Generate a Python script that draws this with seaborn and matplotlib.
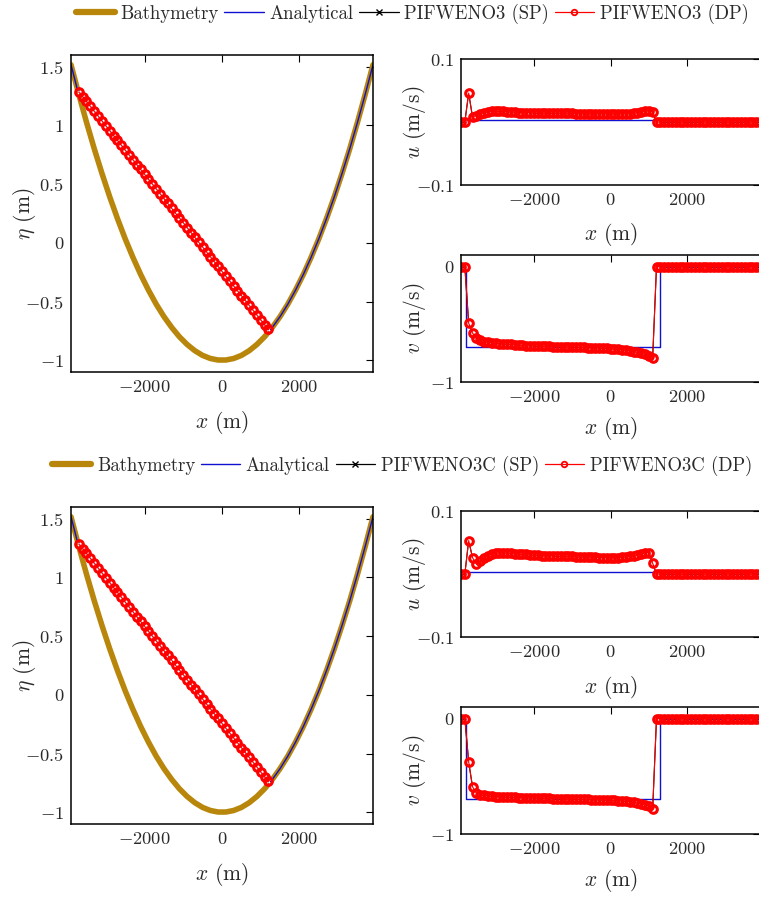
import numpy as np
import matplotlib
matplotlib.use('Agg')
import matplotlib.pyplot as plt
from matplotlib.lines import Line2D
from matplotlib.ticker import FuncFormatter, FixedLocator
import seaborn as sns

sns.set_style('white')
plt.rcParams['font.family'] = ['cmr10', 'DejaVu Serif']
plt.rcParams['mathtext.fontset'] = 'cm'
plt.rcParams['axes.formatter.use_mathtext'] = True
plt.rcParams['axes.unicode_minus'] = False

# ---- data ----
# bathymetry, sampled every 200 m from -3900 to 3900
x_bathy = np.arange(-3900, 3901, 200)
z_bathy = [1.517, 1.266, 1.028, 0.802, 0.591, 0.392, 0.207, 0.034, -0.124, -0.270,
           -0.402, -0.522, -0.628, -0.720, -0.800, -0.866, -0.919, -0.959, -0.985, -0.998,
           -0.998, -0.985, -0.959, -0.919, -0.866, -0.800, -0.720, -0.628, -0.522, -0.402,
           -0.270, -0.124, 0.034, 0.207, 0.392, 0.591, 0.802, 1.028, 1.266, 1.517]

# analytical free surface (planar in the wet part, = bathymetry where dry)
x_exact = [-3900, -3800, -3740, -3000, -2000, -1000, 0, 1000, 1213,
           1300, 1500, 1700, 1900, 2100, 2300, 2500, 2700, 2900, 3100, 3300, 3500, 3700, 3900]
eta_exact = [1.517, 1.390, 1.31, 0.997, 0.584, 0.171, -0.242, -0.655, -0.75,
             -0.720, -0.628, -0.522, -0.402, -0.270, -0.124, 0.034, 0.207, 0.392, 0.591,
             0.802, 1.028, 1.266, 1.517]

# analytical velocities (step shape)
x_vel_exact = [-3900, -3760, -3760, 1290, 1290, 3900]
u_exact = [0.0, 0.0, 0.003, 0.003, 0.0, 0.0]
v_exact = [0.0, 0.0, -0.70, -0.70, 0.0, 0.0]

# numerical cells, every 100 m
x_cells = np.arange(-3900, 3901, 100)
x_wet_eta = x_cells[2:52]      # -3700 ... 1200

eta_num = [1.286, 1.245, 1.204, 1.162, 1.121, 1.080, 1.038, 0.997, 0.956, 0.914,
           0.873, 0.832, 0.790, 0.749, 0.708, 0.666, 0.625, 0.584, 0.542, 0.501,
           0.460, 0.419, 0.377, 0.336, 0.295, 0.253, 0.212, 0.171, 0.129, 0.088,
           0.047, 0.005, -0.036, -0.077, -0.119, -0.160, -0.201, -0.243, -0.284, -0.325,
           -0.366, -0.408, -0.449, -0.490, -0.532, -0.573, -0.614, -0.656, -0.697, -0.738]

dry_left = [0.0, 0.0]
dry_right = [0.0, 0.0, 0.0, 0.0, 0.0, 0.0, 0.0, 0.0, 0.0, 0.0,
             0.0, 0.0, 0.0, 0.0, 0.0, 0.0, 0.0, 0.0, 0.0, 0.0,
             0.0, 0.0, 0.0, 0.0, 0.0, 0.0, 0.0, 0.0]

# PIFWENO3 (wet cells -3700 ... 1100)
u_wet_a = [0.046, 0.008, 0.010, 0.013, 0.015, 0.016, 0.017, 0.017, 0.017, 0.017,
           0.016, 0.016, 0.016, 0.015, 0.015, 0.015, 0.015, 0.014, 0.014, 0.014,
           0.014, 0.014, 0.014, 0.014, 0.014, 0.014, 0.014, 0.014, 0.013, 0.013,
           0.013, 0.013, 0.013, 0.013, 0.013, 0.013, 0.013, 0.013, 0.013, 0.013,
           0.013, 0.013, 0.013, 0.014, 0.015, 0.016, 0.017, 0.018, 0.016]
v_wet_a = [-0.49, -0.575, -0.62, -0.64, -0.65, -0.655, -0.66, -0.665, -0.668, -0.67,
           -0.672, -0.675, -0.677, -0.68, -0.682, -0.684, -0.686, -0.688, -0.689, -0.69,
           -0.691, -0.692, -0.693, -0.694, -0.695, -0.696, -0.697, -0.698, -0.699, -0.70,
           -0.701, -0.702, -0.703, -0.704, -0.705, -0.707, -0.709, -0.711, -0.714, -0.717,
           -0.721, -0.725, -0.73, -0.736, -0.743, -0.751, -0.761, -0.773, -0.79]

# PIFWENO3C
u_wet_b = [0.053, 0.026, 0.016, 0.020, 0.025, 0.029, 0.032, 0.033, 0.034, 0.034,
           0.033, 0.033, 0.032, 0.032, 0.031, 0.031, 0.030, 0.030, 0.030, 0.029,
           0.029, 0.029, 0.029, 0.028, 0.028, 0.028, 0.028, 0.028, 0.027, 0.027,
           0.027, 0.027, 0.027, 0.027, 0.026, 0.026, 0.026, 0.026, 0.026, 0.026,
           0.027, 0.027, 0.028, 0.029, 0.030, 0.032, 0.034, 0.034, 0.017]
v_wet_b = [-0.375, -0.59, -0.645, -0.66, -0.665, -0.67, -0.673, -0.676, -0.678, -0.68,
           -0.681, -0.682, -0.683, -0.684, -0.685, -0.686, -0.687, -0.688, -0.689, -0.69,
           -0.691, -0.692, -0.693, -0.694, -0.695, -0.696, -0.697, -0.698, -0.699, -0.70,
           -0.70, -0.701, -0.702, -0.703, -0.704, -0.705, -0.706, -0.707, -0.709, -0.711,
           -0.714, -0.717, -0.72, -0.725, -0.731, -0.739, -0.748, -0.76, -0.785]

blocks = [
    {'name': 'PIFWENO3', 'u': dry_left + u_wet_a + dry_right,
     'v': dry_left + v_wet_a + dry_right, 'dy': 0.0, 'legend_x': 412},
    {'name': 'PIFWENO3C', 'u': dry_left + u_wet_b + dry_right,
     'v': dry_left + v_wet_b + dry_right, 'dy': 452 / 897, 'legend_x': 402},
]

gold = '#B8860B'
blue = '#1010D0'
txt = '#2a2a2a'
W, H = 759, 897
fig = plt.figure(figsize=(W / 100, H / 100), dpi=100)

tick_fmt = FuncFormatter(lambda v, p: '$%g$' % v)


def style_axes(ax):
    ax.tick_params(direction='in', top=True, right=True, length=5, width=0.8,
                   labelsize=13.3, colors=txt, pad=5)
    ax.tick_params(colors='black', which='both', labelcolor=txt)
    for s in ax.spines.values():
        s.set_linewidth(1.1)
        s.set_color('black')
    ax.xaxis.set_major_formatter(tick_fmt)
    ax.yaxis.set_major_formatter(tick_fmt)
    ax.xaxis.set_major_locator(FixedLocator([-2000, 0, 2000]))


def px_axes(left, right, top, bottom, dy):
    return fig.add_axes([left / W, 1 - bottom / H - dy, (right - left) / W, (bottom - top) / H])


def set_labels(ax, xlab, ylab, xl_y, yl_x):
    ax.set_xlabel(xlab, fontsize=15.5, color=txt)
    ax.set_ylabel(ylab, fontsize=15.5, color=txt)
    ax.xaxis.set_label_coords(0.5, xl_y)
    ax.yaxis.set_label_coords(yl_x, 0.5)
    ax.xaxis.label.set_va('center')
    ax.yaxis.label.set_va('center')


def draw_num(ax, x, y):
    sns.lineplot(x=x, y=y, ax=ax, estimator=None, sort=False, color='black', lw=0.8,
                 marker='x', markersize=4, markeredgewidth=0.9, legend=False)
    sns.lineplot(x=x, y=y, ax=ax, estimator=None, sort=False, color='red', lw=0.8,
                 marker='o', markersize=5.5, markerfacecolor='none', markeredgecolor='red',
                 markeredgewidth=2.2, legend=False)


for b in blocks:
    dy = b['dy']
    # left: free surface
    ax = px_axes(71, 373, 55, 372, dy)
    sns.lineplot(x=x_bathy, y=z_bathy, ax=ax, estimator=None, sort=False,
                 color=gold, lw=4, legend=False)
    sns.lineplot(x=x_exact, y=eta_exact, ax=ax, estimator=None, sort=False,
                 color=blue, lw=1.0, legend=False)
    draw_num(ax, x_wet_eta, eta_num)
    ax.set_xlim(-3900, 3900)
    ax.set_ylim(-1.1, 1.6)
    ax.yaxis.set_major_locator(FixedLocator([-1, -0.5, 0, 0.5, 1, 1.5]))
    style_axes(ax)
    set_labels(ax, '$x$ (m)', '$\\eta$ (m)', -50 / 317, -46 / 302)

    # u
    axu = px_axes(461, 760, 59, 185, dy)
    sns.lineplot(x=x_vel_exact, y=u_exact, ax=axu, estimator=None, sort=False,
                 color=blue, lw=1.0, legend=False)
    draw_num(axu, x_cells, b['u'])
    axu.set_xlim(-3900, 3900)
    axu.set_ylim(-0.1, 0.1)
    axu.yaxis.set_major_locator(FixedLocator([-0.1, 0.1]))
    style_axes(axu)
    set_labels(axu, '$x$ (m)', '$u$ (m/s)', -50 / 126, -46 / 299)

    # v
    axv = px_axes(461, 760, 255, 382, dy)
    sns.lineplot(x=x_vel_exact, y=v_exact, ax=axv, estimator=None, sort=False,
                 color=blue, lw=1.0, legend=False)
    draw_num(axv, x_cells, b['v'])
    axv.set_xlim(-3900, 3900)
    axv.set_ylim(-1, 0.1)
    axv.yaxis.set_major_locator(FixedLocator([-1, 0]))
    style_axes(axv)
    set_labels(axv, '$x$ (m)', '$v$ (m/s)', -46 / 127, -46 / 299)

    handles = [
        Line2D([], [], color=gold, lw=4.5),
        Line2D([], [], color=blue, lw=1.0),
        Line2D([], [], color='black', lw=0.9, marker='x', markersize=4),
        Line2D([], [], color='red', lw=0.9, marker='o', markersize=4,
               markerfacecolor='none', markeredgewidth=1.3),
    ]
    labels = ['Bathymetry', 'Analytical', b['name'] + ' (SP)', b['name'] + ' (DP)']
    fig.legend(handles, labels, loc='center', ncol=4, frameon=False,
               bbox_to_anchor=(b['legend_x'] / W, 1 - 14 / H - dy), fontsize=13.5,
               handlelength=2.1, handletextpad=0.3, columnspacing=0.3,
               labelcolor=txt, borderpad=0.1)

fig.savefig('out.png', dpi=100)
